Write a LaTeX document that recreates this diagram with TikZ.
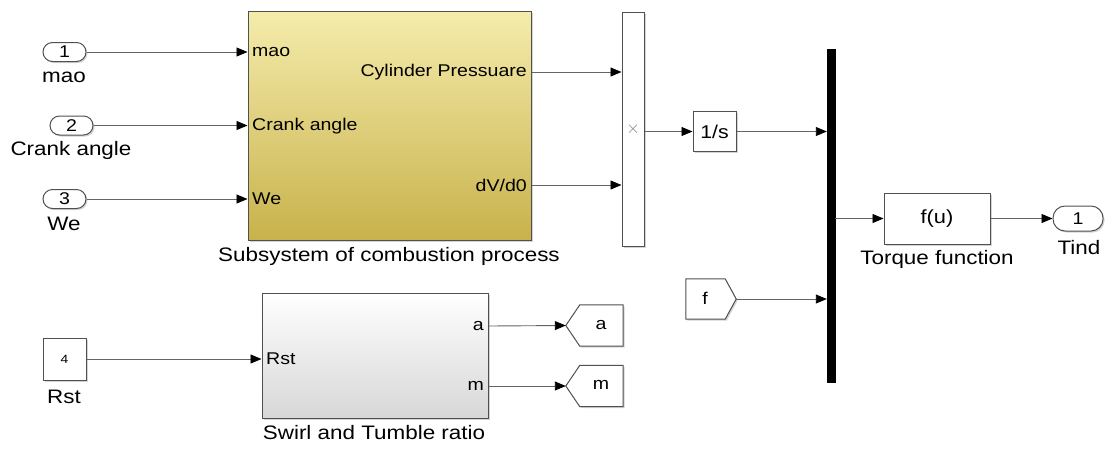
\documentclass[tikz,border=0pt]{standalone}
\usepackage{fontspec}
\setmainfont{Liberation Sans}[FakeStretch=1.15]
\usetikzlibrary{arrows.meta,shadows,calc}
\definecolor{ssTop}{RGB}{245,236,172}
\definecolor{ssBot}{RGB}{200,178,76}
\definecolor{swBot}{RGB}{215,215,215}
\definecolor{lineC}{RGB}{100,100,100}
\definecolor{edgeC}{RGB}{80,80,80}
\begin{document}
\begin{tikzpicture}[x=1pt,y=-1pt,
  blk/.style={draw=edgeC,line width=1pt,fill=white,inner sep=0pt,
     drop shadow={shadow xshift=1.5pt,shadow yshift=-1.5pt,opacity=0.35}},
  inport/.style={blk,rounded corners=9.5pt,minimum width=43pt,minimum height=19pt,font=\fontsize{17}{19}\selectfont},
  captext/.style={font=\fontsize{19.5}{22}\selectfont,inner sep=0pt},
  plab/.style={font=\fontsize{17}{19}\selectfont,inner sep=0pt},
  wire/.style={draw=lineC,line width=0.9pt,-{Triangle[length=11pt,width=9pt,fill=black,color=black]}},
  outln/.style={draw=edgeC,line width=1pt,fill=white}
]
\useasboundingbox (0,0) rectangle (1105,448);

% inports
\node[inport] (in1) at (64.5,52) {1};
\node[inport] (in2) at (71.5,125.5) {2};
\node[inport] (in3) at (64.5,199) {3};
\node[captext] (l1) at (64,77) {mao};
\node[captext] (l2) at (71,150) {Crank angle};
\node[captext] (l3) at (64,224) {We};

% combustion subsystem
\node[blk,top color=ssTop,bottom color=ssBot,minimum width=283pt,minimum height=229pt] (ss) at (389.5,125.5) {};
\node[plab,anchor=west] (p1) at (252,52) {mao};
\node[plab,anchor=west] (p2) at (252,126) {Crank angle};
\node[plab,anchor=west] (p3) at (252,199) {We};
\node[plab,anchor=east] (o1) at (527,72) {Cylinder Pressuare};
\node[plab,anchor=east] (o2) at (527,185) {dV/d0};
\node[captext] (sscap) at (389,256) {Subsystem of combustion process};

\draw[wire] (in1.east) -- (ss.west |- in1.east);
\draw[wire] (in2.east) -- (ss.west |- in2.east);
\draw[wire] (in3.east) -- (ss.west |- in3.east);

% product block
\node[blk,minimum width=22pt,minimum height=234pt] (mux) at (633,129) {};
\node[font=\fontsize{16}{17}\selectfont,text=gray,inner sep=0pt] (xs) at (633,129) {$\times$};
\draw[wire] (ss.east |- o1) -- (mux.west |- o1);
\draw[wire] (ss.east |- o2) -- (mux.west |- o2);

% integrator
\node[blk,minimum width=43pt,minimum height=40pt,font=\fontsize{18.5}{20}\selectfont] (int) at (714.5,131.5) {1/s};
\draw[wire] (mux.east |- int.west) -- (int.west);

% bus
\node[draw=black,fill=black,inner sep=0pt,minimum width=8pt,minimum height=333pt] (bus) at (831,215.5) {};
\draw[wire] (int.east) -- (bus.west |- int.east);

% from f
\node[inner sep=0pt,minimum width=50pt,minimum height=40pt] (ff) at (711,299) {};
\fill[gray,opacity=0.35] ($(ff.north west)+(1.5,1.5)$) -- ($(ff.north east)+(-9.5,1.5)$) -- ($(ff.east)+(1.5,1.5)$) -- ($(ff.south east)+(-9.5,1.5)$) -- ($(ff.south west)+(1.5,1.5)$) -- cycle;
\draw[outln] (ff.north west) -- ($(ff.north east)+(-11,0)$) -- (ff.east) -- ($(ff.south east)+(-11,0)$) -- (ff.south west) -- cycle;
\node[font=\fontsize{17}{19}\selectfont,inner sep=0pt] (ft) at (705,298) {f};
\draw[wire] (ff.east) -- (bus.west |- ff.east);

% torque function
\node[blk,minimum width=106pt,minimum height=51pt,font=\fontsize{19}{21}\selectfont] (fu) at (937,218.5) {f(u)};
\node[captext] (fucap) at (937,259) {Torque function};
\draw[wire] (bus.east |- fu.west) -- (fu.west);

% outport
\node[blk,rounded corners=12pt,minimum width=50pt,minimum height=25pt,font=\fontsize{17}{19}\selectfont] (out) at (1078,218.5) {1};
\node[captext] (outl) at (1079,248) {Tind};
\draw[wire] (fu.east) -- (out.west);

% constant
\node[blk,minimum width=43pt,minimum height=42pt,font=\fontsize{12}{13}\selectfont] (cst) at (64.5,359) {4};
\node[captext] (cstl) at (64,397) {Rst};

% swirl subsystem
\node[blk,top color=white,bottom color=swBot,minimum width=226pt,minimum height=125pt] (sw) at (375,355.5) {};
\node[plab,anchor=west] (sp1) at (266,359) {Rst};
\node[plab,anchor=east] (so1) at (484,326) {a};
\node[plab,anchor=east] (so2) at (484,386) {m};
\node[captext] (swcap) at (374,433) {Swirl and Tumble ratio};
\draw[wire] (cst.east) -- (sw.west |- cst.east);

% goto a, m
\node[inner sep=0pt,minimum width=57pt,minimum height=41pt] (ga) at (594.5,325.5) {};
\fill[gray,opacity=0.35] ($(ga.west)+(1.5,1.5)$) -- ($(ga.north west)+(15.5,1.5)$) -- ($(ga.north east)+(1.5,1.5)$) -- ($(ga.south east)+(1.5,1.5)$) -- ($(ga.south west)+(15.5,1.5)$) -- cycle;
\draw[outln] (ga.west) -- ($(ga.north west)+(14,0)$) -- (ga.north east) -- (ga.south east) -- ($(ga.south west)+(14,0)$) -- cycle;
\node[font=\fontsize{17}{19}\selectfont,inner sep=0pt] (gat) at (601,325) {a};

\node[inner sep=0pt,minimum width=57pt,minimum height=41pt] (gm) at (594.5,386) {};
\fill[gray,opacity=0.35] ($(gm.west)+(1.5,1.5)$) -- ($(gm.north west)+(15.5,1.5)$) -- ($(gm.north east)+(1.5,1.5)$) -- ($(gm.south east)+(1.5,1.5)$) -- ($(gm.south west)+(15.5,1.5)$) -- cycle;
\draw[outln] (gm.west) -- ($(gm.north west)+(14,0)$) -- (gm.north east) -- (gm.south east) -- ($(gm.south west)+(14,0)$) -- cycle;
\node[font=\fontsize{17}{19}\selectfont,inner sep=0pt] (gmt) at (601,385) {m};

\draw[wire] (sw.east |- so1) -- (ga.west);
\draw[wire] (sw.east |- so2) -- (gm.west);
\end{tikzpicture}
\end{document}
